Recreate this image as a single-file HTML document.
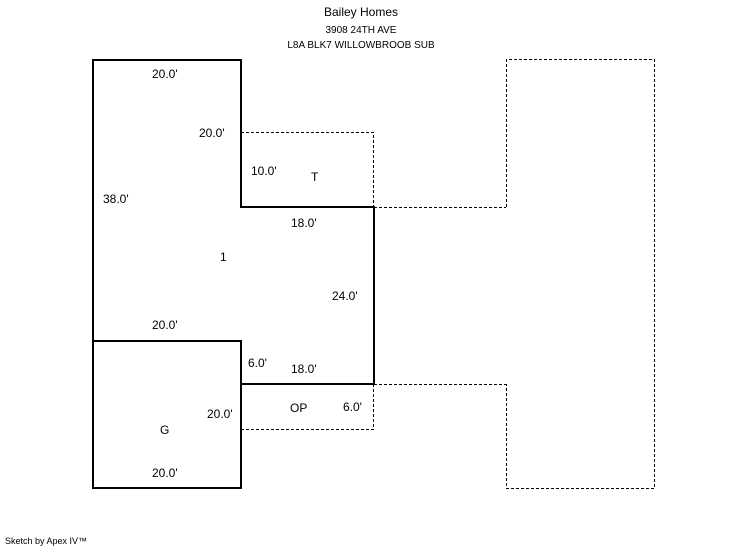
<!DOCTYPE html>
<html><head><meta charset="utf-8"><style>
html,body{margin:0;padding:0;background:#fff;}
svg{display:block;}
text{font-family:"Liberation Sans",Arial,sans-serif;fill:#000;}
</style></head><body>
<svg width="746" height="547" viewBox="0 0 746 547" xmlns="http://www.w3.org/2000/svg">
<g fill="none" stroke="#000" stroke-width="1" stroke-dasharray="3,2">
<polyline points="241,132.5 373.5,132.5 373.5,207"/>
<line x1="374" y1="207.5" x2="506" y2="207.5"/>
<polyline points="506.5,207 506.5,59.5 654.5,59.5 654.5,488.5 506.5,488.5 506.5,384"/>
<line x1="374" y1="384.5" x2="506" y2="384.5"/>
<polyline points="241,429.5 373.5,429.5 373.5,384"/>
</g>
<g fill="none" stroke="#000" stroke-width="2">
<polygon points="93,60 241,60 241,207 374,207 374,384 241,384 241,488 93,488"/>
<polyline points="93,341 241,341 241,384"/>
</g>
<g font-size="12">
<text x="361" y="16" text-anchor="middle">Bailey Homes</text>
<text x="152" y="78">20.0'</text>
<text x="199" y="137">20.0'</text>
<text x="251" y="175">10.0'</text>
<text x="311" y="181">T</text>
<text x="103" y="203">38.0'</text>
<text x="291" y="227">18.0'</text>
<text x="220" y="261">1</text>
<text x="332" y="300">24.0'</text>
<text x="152" y="329">20.0'</text>
<text x="248" y="367">6.0'</text>
<text x="291" y="373">18.0'</text>
<text x="290" y="412">OP</text>
<text x="343" y="411">6.0'</text>
<text x="207" y="418">20.0'</text>
<text x="160" y="434">G</text>
<text x="152" y="477">20.0'</text>
</g>
<g font-size="10">
<text x="361" y="33" text-anchor="middle">3908 24TH AVE</text>
<text x="361" y="48" text-anchor="middle">L8A BLK7 WILLOWBROOB SUB</text>
<text x="5" y="544" font-size="9">Sketch by Apex IV™</text>
</g>
</svg>
</body></html>
